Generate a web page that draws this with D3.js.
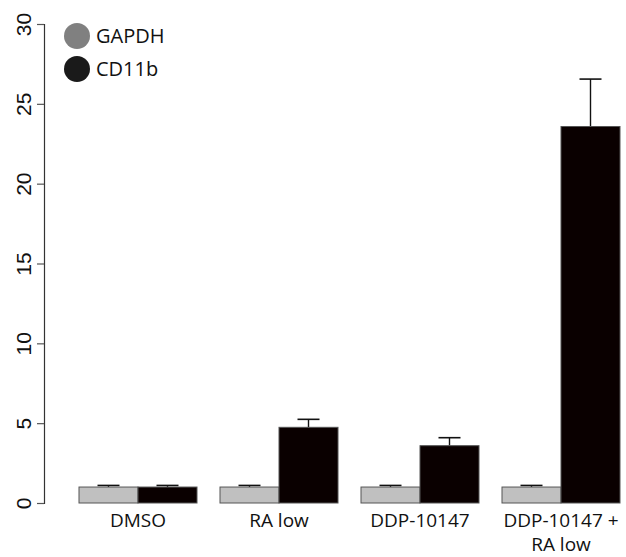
<!DOCTYPE html>
<html>
<head>
<meta charset="utf-8">
<script src="https://cdn.jsdelivr.net/npm/d3@7"></script>
<style>
  body { margin: 0; background: #fff; }
  svg { display: block; }
</style>
</head>
<body>
<svg id="chart" width="626" height="557"></svg>
<script>
// data
var groups = ["DMSO", "RA low", "DDP-10147", "DDP-10147 + RA low"];
var seriesNames = ["GAPDH", "CD11b"];
var gapdh = [1.0, 1.0, 1.0, 1.0];
var gapdhErr = [0.1, 0.1, 0.1, 0.1];
var cd11b = [1.0, 4.74, 3.59, 23.58];
var cd11bErr = [0.1, 0.5, 0.5, 2.97];
var yTicks = [0, 5, 10, 15, 20, 25, 30];

var svg = d3.select("#chart");
var margin = { top: 24, left: 44 };

// groups are 118px wide with 23px gaps, first one starts at x=79
var x0 = d3.scaleBand()
    .domain(groups)
    .range([79, 79 + 4 * 118 + 3 * 23])
    .paddingInner(23 / 141)
    .paddingOuter(0);

var x1 = d3.scaleBand().domain(seriesNames).range([0, x0.bandwidth()]).padding(0);

var y = d3.scaleLinear().domain([0, 30]).range([503, margin.top]);

var colors = { GAPDH: "#c0c0c0", CD11b: "#0a0000" };

var rows = groups.map(function (g, i) {
    return [
        { group: g, key: "GAPDH", value: gapdh[i], err: gapdhErr[i] },
        { group: g, key: "CD11b", value: cd11b[i], err: cd11bErr[i] }
    ];
});

// y axis
var yAxis = svg.append("g")
    .attr("transform", "translate(" + margin.left + ",0)")
    .call(d3.axisLeft(y).tickValues(yTicks).tickSize(7));
yAxis.select(".domain").attr("stroke", "#333").attr("stroke-width", 1.2);
yAxis.selectAll(".tick line").attr("stroke", "#555").attr("stroke-width", 1.2);
// rotate labels around their tick
yAxis.selectAll(".tick text")
    .attr("x", 0)
    .attr("y", 0)
    .attr("dy", null)
    .attr("transform", "translate(-13,0) rotate(-90)")
    .attr("text-anchor", "middle")
    .attr("font-family", "Liberation Sans, Arial, sans-serif")
    .attr("font-size", 21)
    .attr("fill", "#111");

// bars
var gg = svg.append("g").selectAll("g.bar")
    .data(rows)
    .enter().append("g")
    .attr("class", "bar")
    .attr("transform", function (d) { return "translate(" + x0(d[0].group) + ",0)"; });

// error bars (up only), drawn under the bars
gg.selectAll("g.err")
    .data(function (d) { return d; })
    .enter().append("g")
    .attr("class", "err")
    .each(function (d) {
        var cx = x1(d.key) + x1.bandwidth() / 2;
        var g = d3.select(this);
        g.append("line")
            .attr("x1", cx).attr("x2", cx)
            .attr("y1", y(d.value)).attr("y2", y(d.value + d.err))
            .attr("stroke", "#111").attr("stroke-width", 1.4);
        g.append("line")
            .attr("x1", cx - 11).attr("x2", cx + 11)
            .attr("y1", y(d.value + d.err)).attr("y2", y(d.value + d.err))
            .attr("stroke", "#111").attr("stroke-width", 1.6);
    });

gg.selectAll("rect")
    .data(function (d) { return d; })
    .enter().append("rect")
    .attr("x", function (d) { return x1(d.key); })
    .attr("y", function (d) { return y(d.value); })
    .attr("width", x1.bandwidth())
    .attr("height", function (d) { return y(0) - y(d.value); })
    .attr("fill", function (d) { return colors[d.key]; })
    .attr("stroke", "#555")
    .attr("stroke-width", 1);

// x labels (last one wraps onto two lines)
var xl = svg.append("g")
    .attr("font-family", "Open Sans, Liberation Sans, sans-serif")
    .attr("font-size", 19)
    .attr("fill", "#111")
    .attr("text-anchor", "middle");
groups.forEach(function (g) {
    var cx = x0(g) + x0.bandwidth() / 2;
    var parts = g.indexOf(" + ") > -1 ? ["DDP-10147 +", "RA low"] : [g];
    parts.forEach(function (p, j) {
        xl.append("text")
            .attr("x", cx)
            .attr("y", 527 + j * 24)
            .text(p);
    });
});

// legend
var legend = svg.append("g")
    .attr("font-family", "Open Sans, Liberation Sans, sans-serif")
    .attr("font-size", 20)
    .selectAll("g")
    .data(seriesNames)
    .enter().append("g")
    .attr("transform", function (d, i) { return "translate(77," + (36 + i * 33) + ")"; });
legend.append("circle")
    .attr("r", 13)
    .attr("fill", function (d) { return d === "GAPDH" ? "#808080" : "#1a1a1a"; });
legend.append("text")
    .attr("x", 19)
    .attr("dy", "0.36em")
    .attr("fill", "#111")
    .text(function (d) { return d; });
</script>
</body>
</html>
